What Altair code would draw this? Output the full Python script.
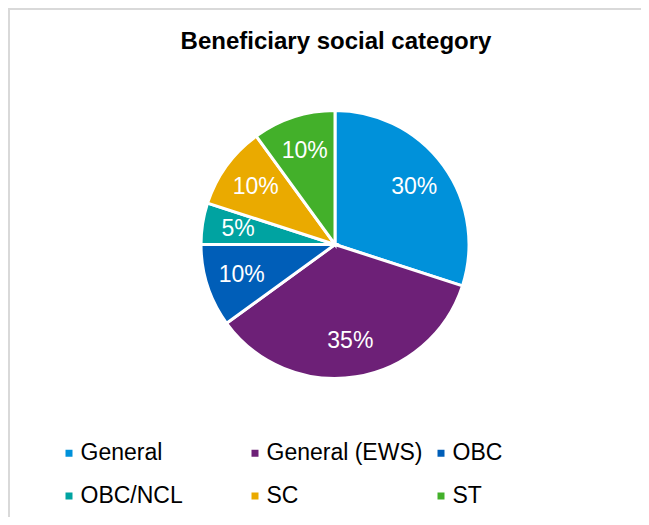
import altair as alt
import pandas as pd

categories = ["General", "General (EWS)", "OBC", "OBC/NCL", "SC", "ST"]
shares = [30, 35, 10, 5, 10, 10]
colors = ["#0091DA", "#6D2077", "#005EB8", "#00A3A1", "#EAAA00", "#43B02A"]
title_text = ["Beneficiary social category"]

df = pd.DataFrame({"category": categories, "share": shares,
                   "order": list(range(len(categories)))})
df["label"] = df["share"].astype(str) + "%"

FONT = "Liberation Sans"
W, H = 633, 509
PAD_TOP = 60
CX, CY = 327, 244.5 - 8 - PAD_TOP

base = alt.Chart(df).encode(
    theta=alt.Theta("share:Q", stack=True),
    order=alt.Order("order:Q"),
)

pie = base.mark_arc(outerRadius=134, stroke="white", strokeWidth=3).encode(
    color=alt.Color(
        "category:N",
        scale=alt.Scale(domain=categories, range=colors),
        legend=alt.Legend(
            orient="none", legendX=49.5, legendY=373.5, direction="horizontal",
            columns=3, symbolType="square", symbolSize=49, symbolStrokeWidth=0,
            labelFontSize=23, labelFont=FONT, labelColor="black", labelOffset=0,
            columnPadding=7, rowPadding=19, gridAlign="all", title=None,
            padding=0, labelLimit=300,
        ),
    ),
    x=alt.value(CX), y=alt.value(CY),
)

labels = base.mark_text(radius=98, font=FONT, fontSize=23, color="white",
                        baseline="middle", align="center").encode(
    text="label:N", detail="category:N",
    x=alt.value(CX), y=alt.value(CY),
)

title = alt.Chart(pd.DataFrame({"t": title_text})).mark_text(
    font=FONT, fontSize=24, fontWeight="bold", color="black",
    align="center", baseline="alphabetic",
).encode(text="t:N", x=alt.value(328), y=alt.value(49 - 8 - PAD_TOP))

frame_df = pd.DataFrame({"a": [0]})
top_line = alt.Chart(frame_df).mark_rule(color="#D9D9D9", strokeWidth=2).encode(
    x=alt.value(0), x2=alt.value(W), y=alt.value(-PAD_TOP + 1))
left_line = alt.Chart(frame_df).mark_rule(color="#D9D9D9", strokeWidth=2).encode(
    x=alt.value(1), y=alt.value(-PAD_TOP), y2=alt.value(H - PAD_TOP))

chart = alt.layer(top_line, left_line, title, pie, labels).properties(
    width=W, height=H - PAD_TOP,
    padding={"left": 0, "top": PAD_TOP, "right": 0, "bottom": 0},
    autosize=alt.AutoSizeParams(type="none"),
    background="white",
).configure_view(stroke=None)

chart.save("out.html", embed_options={"renderer": "svg", "actions": False})
